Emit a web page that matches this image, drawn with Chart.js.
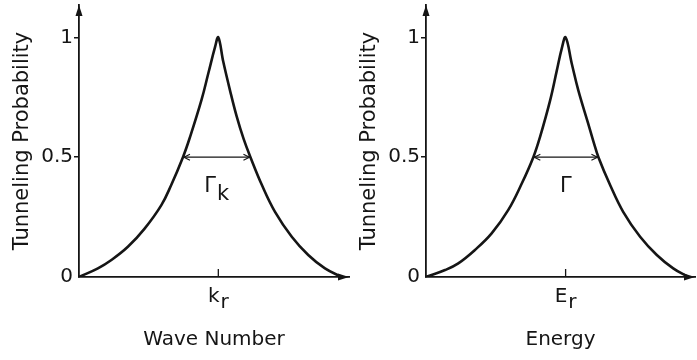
<!DOCTYPE html>
<html>
<head>
<meta charset="utf-8">
<script src="https://cdn.jsdelivr.net/npm/chart.js@4"></script>
<style>
    body { margin: 0; background: #fff; }
    #wrap { position: relative; width: 697px; height: 360px; overflow: hidden; }
    canvas { position: absolute; top: 0; }
    #waveChart { left: 0; }
    #energyChart { left: 347px; }
</style>
</head>
<body>
<div id="wrap">
    <canvas id="waveChart" width="356" height="360"></canvas>
    <canvas id="energyChart" width="350" height="360"></canvas>
</div>
<script>
// tunneling probability vs wave number (x in arbitrary units, k_r at the peak)
const waveX = [0, 7.0, 12.0, 18.1, 24.3, 30.5, 34.2, 38.5, 41.0, 45.4, 47.9, 50.4, 51.6, 53.4, 55.9, 58.4, 61.0, 63.5, 67.7, 72.6, 78.8, 84.9, 91.1, 97.3];
const waveT = [0, 0.036, 0.071, 0.126, 0.202, 0.30, 0.385, 0.5, 0.58, 0.74, 0.85, 0.96, 1.0, 0.9, 0.78, 0.67, 0.575, 0.5, 0.385, 0.272, 0.168, 0.092, 0.036, 0];
const waveHalf = [38.5, 63.5];
const kr = 51.6;

// tunneling probability vs energy
const energyX = [0, 7.1, 12.0, 18.2, 24.4, 30.6, 35.6, 39.9, 42.4, 46.1, 48.6, 50.5, 51.9, 54.2, 56.6, 60.3, 62.2, 64.1, 68.4, 73.3, 79.6, 85.8, 91.9, 97.5];
const energyT = [0, 0.029, 0.057, 0.113, 0.182, 0.28, 0.39, 0.5, 0.585, 0.735, 0.86, 0.955, 1.0, 0.89, 0.78, 0.64, 0.567, 0.5, 0.385, 0.272, 0.168, 0.092, 0.036, 0];
const energyHalf = [39.9, 64.1];
const er = 51.9;

const probTicks = [0, 0.5, 1];
const halfLevel = 0.5;

const ink = '#151515';
const family = 'DejaVu Sans';
const font = { family, size: 20 };

// text with a lowered second part, e.g. k with subscript r
const drawSub = (ctx, main, sub, cx, base, drop) => {
    const wm = ctx.measureText(main).width;
    const ws = sub ? ctx.measureText(sub).width + 1 : 0;
    const start = cx - (wm + ws) / 2;
    ctx.fillText(main, start, base);
    if (sub) ctx.fillText(sub, start + wm + 1, base + drop);
};

const sketchMarks = {
    id: 'sketchMarks',
    afterDatasetsDraw(chart, args, opts) {
        const { ctx, chartArea: a, scales: { x } } = chart;
        ctx.save();
        ctx.strokeStyle = ink;
        ctx.fillStyle = ink;

        // arrow tips on both axes
        ctx.beginPath();
        ctx.moveTo(a.left, a.top);
        ctx.lineTo(a.left - 3.5, a.top + 11);
        ctx.lineTo(a.left + 3.5, a.top + 11);
        ctx.closePath();
        ctx.fill();
        ctx.beginPath();
        ctx.moveTo(a.right, a.bottom);
        ctx.lineTo(a.right - 11, a.bottom - 3.5);
        ctx.lineTo(a.right - 11, a.bottom + 3.5);
        ctx.closePath();
        ctx.fill();

        // open heads on the width marker
        const [p0, p1] = chart.getDatasetMeta(1).data;
        ctx.lineWidth = 1.2;
        ctx.beginPath();
        ctx.moveTo(p0.x + 7, p0.y - 3);
        ctx.lineTo(p0.x + 1, p0.y);
        ctx.lineTo(p0.x + 7, p0.y + 3);
        ctx.moveTo(p1.x - 7, p1.y - 3);
        ctx.lineTo(p1.x - 1, p1.y);
        ctx.lineTo(p1.x - 7, p1.y + 3);
        ctx.stroke();

        // small tick at the resonance
        const px = x.getPixelForValue(opts.peak);
        ctx.lineWidth = 1.3;
        ctx.beginPath();
        ctx.moveTo(px, a.bottom - 8);
        ctx.lineTo(px, a.bottom);
        ctx.stroke();

        ctx.font = `21px "${family}"`;
        ctx.textBaseline = 'alphabetic';
        drawSub(ctx, opts.widthMain, opts.widthSub, (p0.x + p1.x) / 2, p0.y + 35, 8);
        ctx.font = `20px "${family}"`;
        drawSub(ctx, opts.tickMain, opts.tickSub, px, a.bottom + 25, 6);
        ctx.restore();
    }
};

const makeChart = (id, xs, ys, half, peak, title, marks, rightPad) => new Chart(document.getElementById(id), {
    type: 'line',
    data: {
        datasets: [{
            data: xs.map((v, i) => ({ x: v, y: ys[i] })),
            borderColor: ink,
            borderWidth: 2.6,
            pointRadius: 0,
            tension: 0.4
        }, {
            data: half.map(v => ({ x: v, y: halfLevel })),
            borderColor: ink,
            borderWidth: 1.2,
            pointRadius: 0,
            tension: 0
        }]
    },
    options: {
        responsive: false,
        animation: false,
        events: [],
        devicePixelRatio: 1,
        layout: { padding: { left: 0, top: 5, right: rightPad, bottom: 0 } },
        plugins: {
            legend: { display: false },
            tooltip: { enabled: false },
            sketchMarks: { peak, ...marks }
        },
        scales: {
            x: {
                type: 'linear',
                min: 0,
                max: 100,
                afterBuildTicks: s => { s.ticks = [{ value: peak }]; },
                afterFit: s => { s.height = 83; },
                ticks: { display: false },
                grid: { display: false },
                border: { color: ink, width: 1.8 },
                title: { display: true, text: title, color: ink, font, padding: { bottom: 8 } }
            },
            y: {
                type: 'linear',
                min: 0,
                max: 1.135,
                afterBuildTicks: s => { s.ticks = probTicks.map(v => ({ value: v })); },
                afterFit: s => {
                    s.width = 79;
                    s.paddingTop = 0;
                    s.paddingBottom = 0;
                },
                ticks: { color: ink, font, padding: 1, callback: v => String(v) },
                grid: {
                    drawOnChartArea: false,
                    tickLength: 5,
                    lineWidth: 1.5,
                    color: c => (c.tick && c.tick.value === 0 ? 'rgba(0,0,0,0)' : ink)
                },
                border: { color: ink, width: 1.8 },
                title: { display: true, text: 'Tunneling Probability', color: ink, font: { family, size: 21 }, padding: { top: 10 } }
            }
        }
    },
    plugins: [sketchMarks]
});

makeChart('waveChart', waveX, waveT, waveHalf, kr, 'Wave Number',
    { widthMain: 'Γ', widthSub: 'k', tickMain: 'k', tickSub: 'r' }, 7);
makeChart('energyChart', energyX, energyT, energyHalf, er, 'Energy',
    { widthMain: 'Γ', widthSub: '', tickMain: 'E', tickSub: 'r' }, 2);
</script>
</body>
</html>
